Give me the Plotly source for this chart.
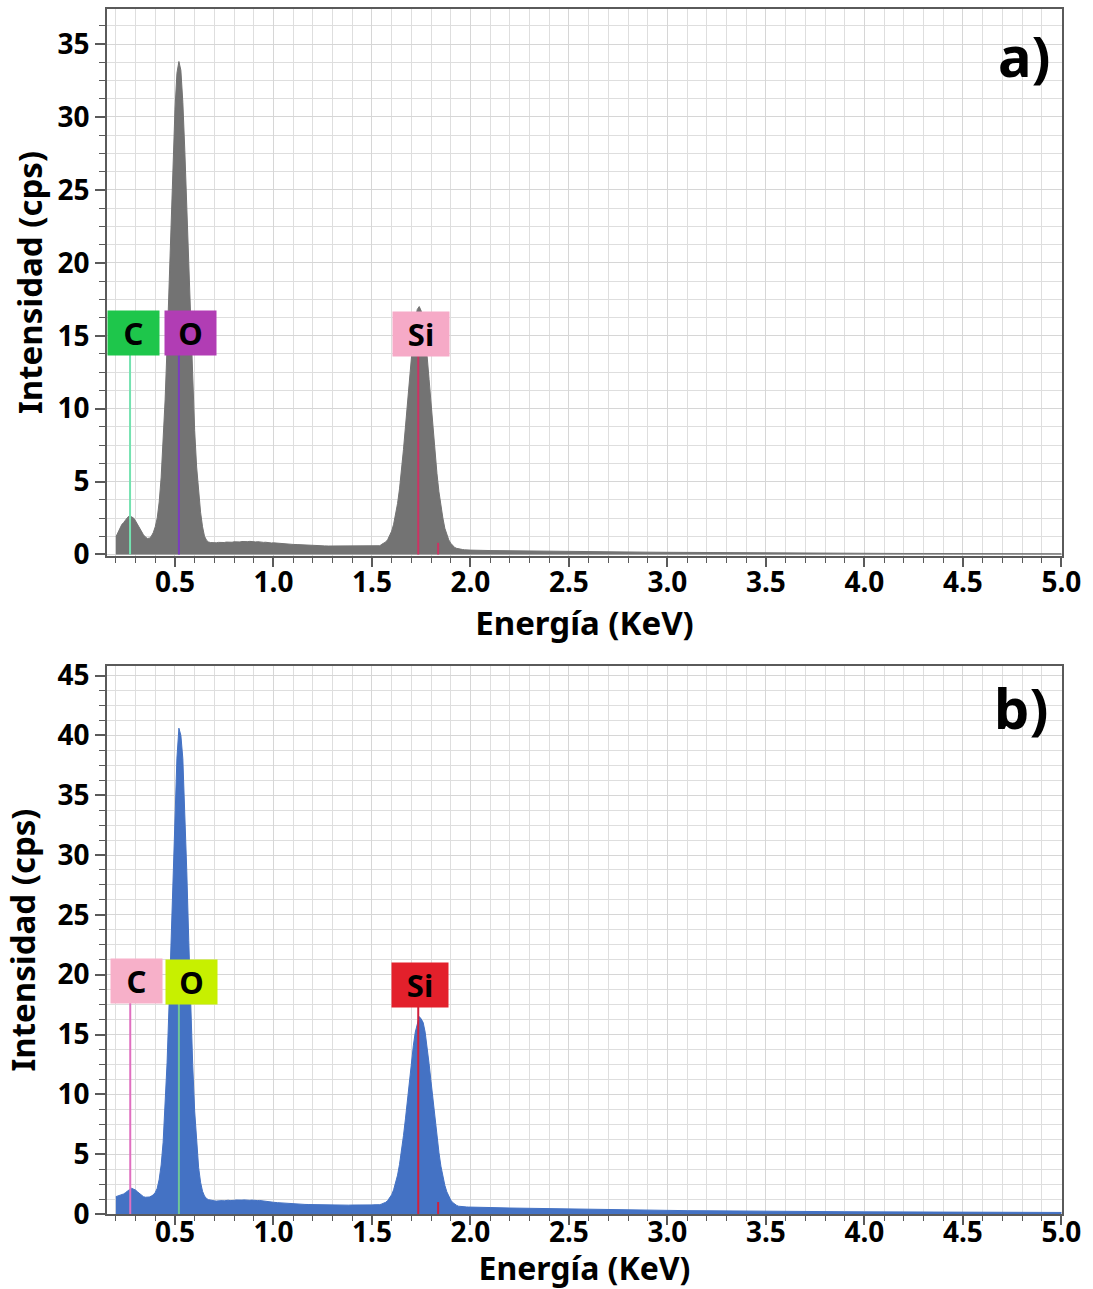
import plotly.graph_objects as go

# ---------------- data ----------------
energia = [
    0.20, 0.21, 0.22, 0.23, 0.24, 0.25, 0.26, 0.27, 0.28, 0.29,
    0.30, 0.31, 0.32, 0.33, 0.34, 0.35, 0.36, 0.37, 0.38, 0.39,
    0.40, 0.41, 0.42, 0.43, 0.44, 0.45, 0.46, 0.47, 0.48, 0.49,
    0.50, 0.51, 0.52, 0.53, 0.54, 0.55, 0.56, 0.57, 0.58, 0.59,
    0.60, 0.61, 0.62, 0.63, 0.64, 0.65, 0.66, 0.67, 0.68, 0.69,
    0.70, 0.71, 0.72, 0.73, 0.74, 0.75, 0.76, 0.77, 0.78, 0.79,
    0.80, 0.81, 0.82, 0.83, 0.84, 0.85, 0.86, 0.87, 0.88, 0.89,
    0.90, 0.91, 0.92, 0.93, 0.94, 0.95, 0.96, 0.97, 0.98, 0.99,
    1.00,
    1.02, 1.04, 1.06, 1.08, 1.10, 1.12, 1.14, 1.16, 1.18, 1.20,
    1.22, 1.24, 1.26, 1.28, 1.30, 1.32, 1.34, 1.36, 1.38, 1.40,
    1.42, 1.44, 1.46, 1.48, 1.50,
    1.51, 1.52, 1.53, 1.54, 1.55, 1.56, 1.57, 1.58, 1.59, 1.60,
    1.61, 1.62, 1.63, 1.64, 1.65, 1.66, 1.67, 1.68, 1.69, 1.70,
    1.71, 1.72, 1.73, 1.74, 1.75, 1.76, 1.77, 1.78, 1.79, 1.80,
    1.81, 1.82, 1.83, 1.84, 1.85, 1.86, 1.87, 1.88, 1.89, 1.90,
    1.91, 1.92, 1.93, 1.94, 1.95, 1.96, 1.97, 1.98, 1.99, 2.00,
    2.1, 2.2, 2.3, 2.4, 2.5, 2.6, 2.7, 2.8, 2.9, 3.0,
    3.1, 3.2, 3.3, 3.4, 3.5, 3.6, 3.7, 3.8, 3.9, 4.0,
    4.1, 4.2, 4.3, 4.4, 4.5, 4.6, 4.7, 4.8, 4.9, 5.0,
]

intensidad_a = [
    1.2, 1.5, 1.8, 2.05, 2.2, 2.4, 2.55, 2.65, 2.6, 2.5,
    2.3, 2.05, 1.8, 1.55, 1.35, 1.2, 1.1, 1.12, 1.25, 1.5,
    1.9, 2.5, 3.6, 5.3, 7.6, 10.6, 14.3, 18.5, 22.8, 27.0,
    30.5, 33.0, 33.8, 33.2, 31.0, 27.7, 23.7, 19.5, 15.4, 11.6,
    8.5, 6.0, 4.2, 2.9, 1.9, 1.25, 0.98, 0.86, 0.82, 0.80,
    0.82, 0.80, 0.83, 0.81, 0.84, 0.82, 0.85, 0.83, 0.86, 0.84,
    0.87, 0.85, 0.88, 0.86, 0.89, 0.87, 0.90, 0.88, 0.90, 0.87,
    0.89, 0.86, 0.88, 0.85, 0.86, 0.83, 0.84, 0.81, 0.82, 0.79,
    0.80,
    0.77, 0.76, 0.73, 0.72, 0.69, 0.68, 0.66, 0.65, 0.63, 0.62,
    0.61, 0.60, 0.59, 0.58, 0.58, 0.57, 0.57, 0.56, 0.57, 0.56,
    0.56, 0.57, 0.57, 0.58, 0.58,
    0.58, 0.59, 0.58, 0.60, 0.70, 0.76, 0.86, 1.02, 1.26, 1.6,
    2.07, 2.7, 3.5, 4.5, 5.75, 7.2, 8.75, 10.4, 12.1, 13.7,
    15.0, 16.1, 16.8, 17.0, 16.7, 16.0, 14.9, 13.6, 12.0, 10.25,
    8.6, 7.05, 5.55, 4.3, 3.3, 2.5, 1.8, 1.35, 1.0, 0.77,
    0.6, 0.48, 0.42, 0.38, 0.35, 0.34, 0.32, 0.31, 0.30, 0.30,
    0.27, 0.25, 0.24, 0.23, 0.21, 0.20, 0.18, 0.17, 0.16, 0.15,
    0.14, 0.13, 0.12, 0.12, 0.11, 0.10, 0.10, 0.09, 0.09, 0.08,
    0.08, 0.07, 0.07, 0.07, 0.06, 0.06, 0.06, 0.05, 0.05, 0.05,
]

intensidad_b = [
    1.45, 1.5, 1.52, 1.58, 1.68, 1.8, 1.95, 2.05, 2.15, 2.1,
    2.0, 1.85, 1.7, 1.55, 1.45, 1.4, 1.38, 1.42, 1.5, 1.6,
    1.8, 2.15, 2.9, 4.1, 6.0, 8.8, 12.65, 17.45, 22.9, 28.7,
    34.0, 38.1, 40.6, 40.0, 38.05, 33.95, 28.65, 22.85, 17.3, 12.5,
    8.6, 5.8, 3.9, 2.65, 1.9, 1.5, 1.3, 1.2, 1.15, 1.12,
    1.10, 1.08, 1.11, 1.09, 1.12, 1.10, 1.13, 1.15, 1.12, 1.16,
    1.14, 1.17, 1.15, 1.18, 1.16, 1.18, 1.15, 1.17, 1.14, 1.16,
    1.13, 1.15, 1.12, 1.13, 1.10, 1.11, 1.07, 1.06, 1.02, 1.01,
    0.98,
    0.95, 0.92, 0.89, 0.87, 0.85, 0.83, 0.82, 0.80, 0.79, 0.78,
    0.77, 0.77, 0.76, 0.75, 0.76, 0.75, 0.74, 0.75, 0.74, 0.75,
    0.74, 0.75, 0.75, 0.76, 0.76,
    0.77, 0.76, 0.77, 0.78, 0.84, 0.9, 0.98, 1.12, 1.32, 1.61,
    2.02, 2.55, 3.25, 4.15, 5.25, 6.55, 7.95, 9.55, 11.15, 12.65,
    14.05, 15.2, 16.0, 16.5, 16.3, 16.0, 15.2, 14.0, 12.55, 11.05,
    9.45, 7.85, 6.45, 5.15, 4.0, 3.1, 2.4, 1.86, 1.45, 1.16,
    0.96, 0.8, 0.72, 0.65, 0.62, 0.61, 0.60, 0.59, 0.58, 0.58,
    0.54, 0.50, 0.47, 0.44, 0.41, 0.38, 0.36, 0.34, 0.32, 0.30,
    0.28, 0.27, 0.25, 0.24, 0.23, 0.22, 0.21, 0.20, 0.19, 0.18,
    0.17, 0.17, 0.16, 0.16, 0.15, 0.15, 0.14, 0.14, 0.13, 0.13,
]

ticks_x = [0.5, 1.0, 1.5, 2.0, 2.5, 3.0, 3.5, 4.0, 4.5, 5.0]
ticks_x_texto = ["0.5", "1.0", "1.5", "2.0", "2.5", "3.0", "3.5", "4.0", "4.5", "5.0"]
ticks_y_a = [0, 5, 10, 15, 20, 25, 30, 35]
ticks_y_b = [0, 5, 10, 15, 20, 25, 30, 35, 40, 45]

# element markers
elementos_a = ["C", "O", "Si"]
lineas_a = [0.272, 0.52, 1.735]
etiqueta_x_a = [0.287, 0.577, 1.747]
etiqueta_y_a = [15.2, 15.2, 15.1]
colores_caja_a = ["#1ec64b", "#b13db4", "#f6aac7"]
colores_linea_a = ["#74e2b0", "#7a3cc0", "#cc3363"]

elementos_b = ["C", "O", "Si"]
lineas_b = [0.273, 0.52, 1.735]
etiqueta_x_b = [0.306, 0.583, 1.743]
etiqueta_y_b = [19.45, 19.4, 19.1]
colores_caja_b = ["#f7b0c9", "#c7f000", "#e3202b"]
colores_linea_b = ["#e06fc0", "#6fc797", "#d0203d"]

si_kb = 1.836

# ---------------- figure ----------------
FONT = "Noto Sans"
W, H = 1093, 1289
ML, MR, MT, MB = 107, 31, 9, 75

fig = go.Figure()
fig.add_trace(go.Scatter(
    x=energia, y=intensidad_a, xaxis="x", yaxis="y", mode="lines",
    fill="tozeroy", line=dict(color="#737373", width=1), fillcolor="#737373",
    showlegend=False, hoverinfo="x+y"))
fig.add_trace(go.Scatter(
    x=energia, y=intensidad_b, xaxis="x2", yaxis="y2", mode="lines",
    fill="tozeroy", line=dict(color="#4472c4", width=1), fillcolor="#4472c4",
    showlegend=False, hoverinfo="x+y"))

tickfont = dict(family=FONT, size=28, color="black", weight="bold")
axcol = "#5a5a5a"

def xax(anchor, lab_standoff, title_standoff, title_size):
    return dict(
        anchor=anchor, domain=[0, 1], range=[0.155, 5.003],
        tickmode="array", tickvals=ticks_x, ticktext=ticks_x_texto,
        showline=True, linecolor=axcol, linewidth=1.5, mirror=True,
        ticks="outside", ticklen=9, tickwidth=1.5, tickcolor=axcol,
        ticklabelstandoff=lab_standoff,
        showgrid=True, gridcolor="#d6d6d6", gridwidth=1, zeroline=False,
        tickfont=tickfont,
        minor=dict(dtick=0.1, tick0=0, ticks="outside", ticklen=5,
                   tickwidth=1.2, tickcolor=axcol, showgrid=True,
                   gridcolor="#dedede", gridwidth=1),
        title=dict(text="Energía (KeV)", standoff=title_standoff,
                   font=dict(family=FONT, size=title_size, color="black", weight="bold")),
    )

def yax(anchor, domain, rng, vals, title_standoff):
    return dict(
        anchor=anchor, domain=domain, range=rng,
        tickmode="array", tickvals=vals, ticktext=[str(v) for v in vals],
        showline=True, linecolor=axcol, linewidth=1.5, mirror=True,
        ticks="outside", ticklen=10, tickwidth=1.5, tickcolor=axcol,
        showgrid=True, gridcolor="#d6d6d6", gridwidth=1, zeroline=False,
        tickfont=tickfont,
        minor=dict(dtick=1.25, tick0=0, ticks="outside", ticklen=6,
                   tickwidth=1.2, tickcolor=axcol, showgrid=True,
                   gridcolor="#dedede", gridwidth=1),
        title=dict(text="Intensidad (cps)", standoff=title_standoff,
                   font=dict(family=FONT, size=33, color="black", weight="bold")),
    )

fig.update_layout(
    width=W, height=H,
    margin=dict(l=ML, r=MR, t=MT, b=MB, autoexpand=False),
    paper_bgcolor="white", plot_bgcolor="white",
    xaxis=xax("y", -8, 1, 33),
    yaxis=yax("x", [0.5461, 1.0], [-0.1, 37.4], ticks_y_a, 5),
    xaxis2=xax("y2", -16, 11, 32),
    yaxis2=yax("x2", [0.0, 0.4548], [0, 45.8], ticks_y_b, 13),
)

shapes = []
annotations = []

def marcadores(xr, yr, nombres, lineas, ex, ey, cajas, clineas, alto_caja_val):
    for n, xl, axp, ayp, cc, cl in zip(nombres, lineas, ex, ey, cajas, clineas):
        shapes.append(dict(type="line", xref=xr, yref=yr, x0=xl, x1=xl,
                           y0=0, y1=ayp - alto_caja_val, layer="above",
                           line=dict(color=cl, width=2)))
        annotations.append(dict(
            x=axp, y=ayp, xref=xr, yref=yr, text="<b>%s</b>" % n,
            showarrow=False, bgcolor=cc, width=56 if n == "Si" else 51,
            height=44, xanchor="center", yanchor="middle", borderpad=0,
            font=dict(family=FONT, size=31, color="black")))

marcadores("x", "y", elementos_a, lineas_a, etiqueta_x_a, etiqueta_y_a,
           colores_caja_a, colores_linea_a, 1.5)
marcadores("x2", "y2", elementos_b, lineas_b, etiqueta_x_b, etiqueta_y_b,
           colores_caja_b, colores_linea_b, 1.8)

# small Si K-beta marks
shapes.append(dict(type="line", xref="x", yref="y", x0=si_kb, x1=si_kb, y0=0, y1=0.8,
                   layer="above", line=dict(color="#cc3363", width=2)))
shapes.append(dict(type="line", xref="x2", yref="y2", x0=si_kb, x1=si_kb, y0=0, y1=1.0,
                   layer="above", line=dict(color="#d0203d", width=2)))

annotations.append(dict(x=0.961, y=0.9618, xref="paper", yref="paper", text="<b>a)</b>",
                        showarrow=False, xanchor="center", yanchor="middle",
                        font=dict(family=FONT, size=56, color="black")))
annotations.append(dict(x=0.957, y=0.4207, xref="paper", yref="paper", text="<b>b)</b>",
                        showarrow=False, xanchor="center", yanchor="middle",
                        font=dict(family=FONT, size=56, color="black")))

fig.update_layout(shapes=shapes, annotations=annotations)
fig.write_html("out.html", config={"displayModeBar": False},
               post_script="document.body.style.margin='0';document.body.style.padding='0';")
